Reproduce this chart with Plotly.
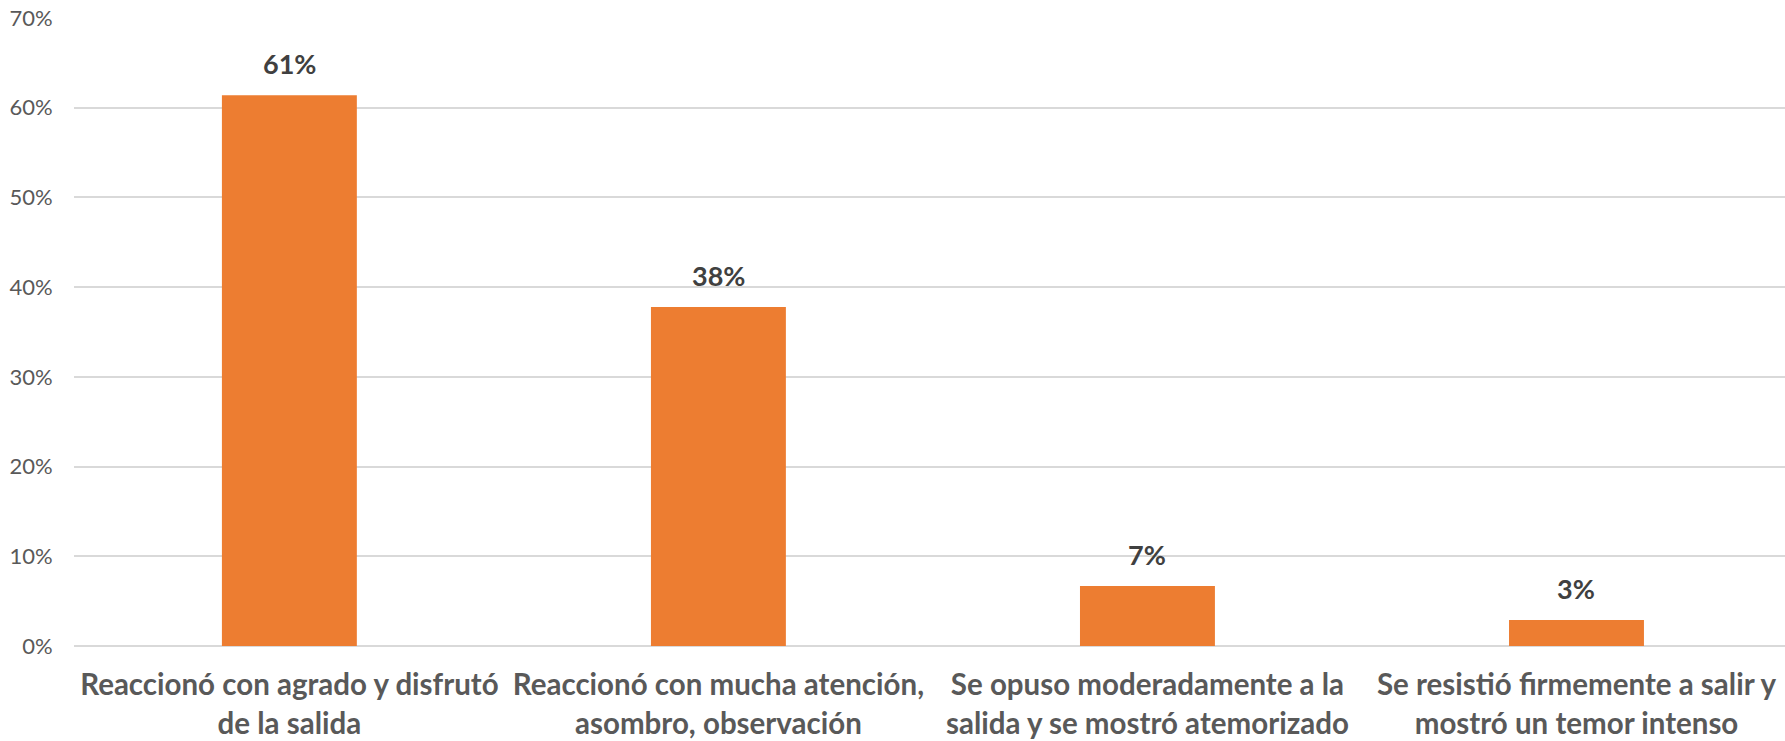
import plotly.graph_objects as go

categories = [
    "Reaccionó con agrado y disfrutó<br>de la salida",
    "Reaccionó con mucha atención,<br>asombro, observación",
    "Se opuso moderadamente a la<br>salida y se mostró atemorizado",
    "Se resistió firmemente a salir y<br>mostró un temor intenso",
]
values = [61.4, 37.8, 6.7, 2.9]
labels = ["61%", "38%", "7%", "3%"]
y_ticks = [0, 10, 20, 30, 40, 50, 60, 70]
y_ticktext = ["0%", "10%", "20%", "30%", "40%", "50%", "60%", "70%"]

fig = go.Figure()
fig.add_trace(go.Bar(
    x=categories, y=values,
    marker=dict(color="#ED7D31", line=dict(width=0)),
    hoverinfo="skip",
))

for c, v, t in zip(categories, values, labels):
    fig.add_annotation(
        x=c, y=v, text=f"<b>{t}</b>", showarrow=False,
        yanchor="bottom", yshift=13,
        font=dict(family="Lato", size=27, color="#404040"),
    )

fig.update_layout(
    width=1785, height=741,
    margin=dict(l=74, r=0, t=18, b=95),
    paper_bgcolor="white", plot_bgcolor="white",
    bargap=0.6855,
    showlegend=False,
    font=dict(family="Lato"),
)
fig.update_yaxes(
    range=[0, 70], tickmode="array",
    tickvals=y_ticks, ticktext=y_ticktext,
    showgrid=True, gridcolor="#D9D9D9", gridwidth=1.5,
    zeroline=True, zerolinecolor="#D9D9D9", zerolinewidth=1.5,
    showline=False, automargin=False, ticklabeloverflow="allow",
    ticks="outside", ticklen=16, tickcolor="rgba(0,0,0,0)",
    tickfont=dict(family="Lato", size=22, color="#595959"),
)
fig.update_xaxes(
    range=[-0.502, 3.486], automargin=False,
    showgrid=False, showline=False,
    ticks="outside", ticklen=13, tickcolor="rgba(0,0,0,0)",
    tickfont=dict(family="Lato", size=29.5, color="#595959", weight="bold"),
    tickangle=0,
)
fig.write_html(
    "out.html",
    config={"displayModeBar": False},
    post_script="document.body.style.margin='0px';",
)
